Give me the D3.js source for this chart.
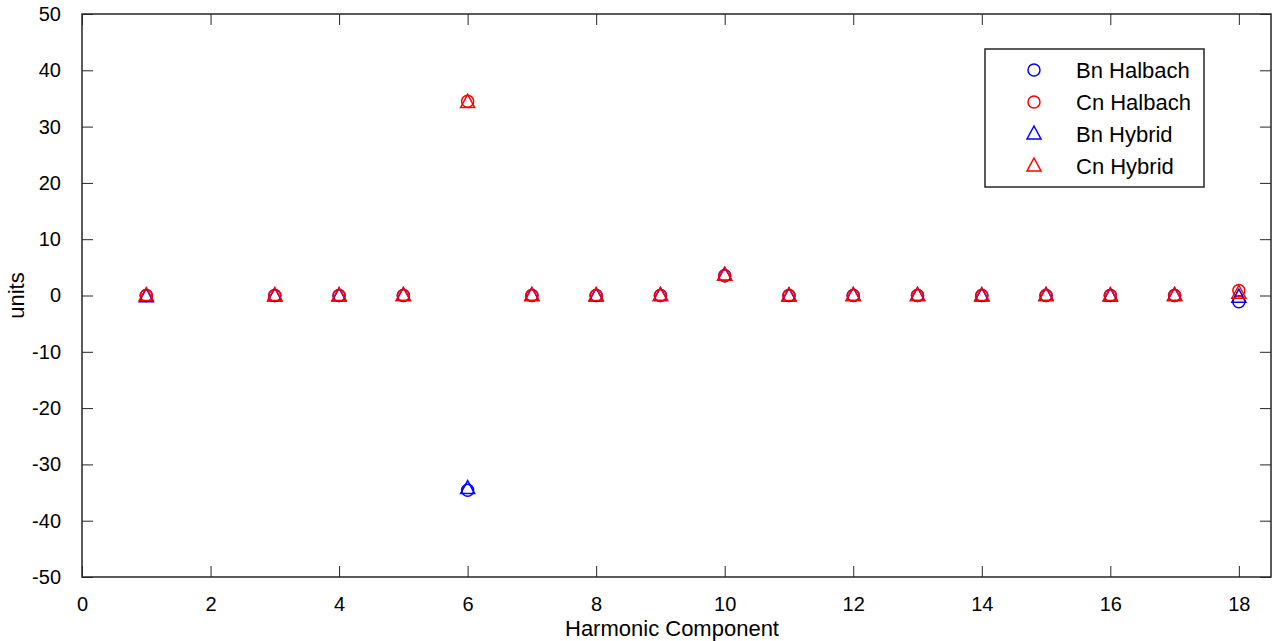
<!DOCTYPE html>
<html lang="en">
<head>
<meta charset="UTF-8">
<title>Harmonic components</title>
<script src="https://d3js.org/d3.v7.min.js"></script>
<style>
  body { margin: 0; background: #fff; }
  text { font-family: "Liberation Sans", Arial, sans-serif; fill: #000; }
</style>
</head>
<body>
<svg id="chart" width="1275" height="641"></svg>
<script>
// harmonic numbers (n = 2 is off the chart and not shown)
const harmonics = [1, 3, 4, 5, 6, 7, 8, 9, 10, 11, 12, 13, 14, 15, 16, 17, 18];
const bnHalbach = [0, 0, 0, 0, -34.6, 0, 0, 0, 3.5, 0, 0, 0, 0, 0, 0, 0, -1.1];
const cnHalbach = [0, 0, 0, 0, 34.5, 0, 0, 0, 3.5, 0, 0, 0, 0, 0, 0, 0, 0.9];
const bnHybrid  = [-0.2, -0.1, -0.1, 0, -34.3, 0, -0.1, 0, 3.6, -0.1, 0, 0, -0.1, 0, -0.1, 0, -0.3];
const cnHybrid  = [0, 0, 0, 0, 34.3, 0, 0, 0, 3.6, 0, 0, 0, 0, 0, 0, 0, 0.4];
const xTicks = [0, 2, 4, 6, 8, 10, 12, 14, 16, 18];
const yTicks = [-50, -40, -30, -20, -10, 0, 10, 20, 30, 40, 50];

const series = [
  { name: "Bn Halbach", values: bnHalbach, color: "#0000ff", shape: "circle" },
  { name: "Cn Halbach", values: cnHalbach, color: "#ff0000", shape: "circle" },
  { name: "Bn Hybrid",  values: bnHybrid,  color: "#0000ff", shape: "triangle" },
  { name: "Cn Hybrid",  values: cnHybrid,  color: "#ff0000", shape: "triangle" }
];

const svg = d3.select("#chart");
const plotL = 82, plotR = 1271, plotT = 14, plotB = 577;
const tickFont = 20, labelFont = 22;

const x = d3.scaleLinear().domain([0, 18.5]).range([plotL, plotR]);
const y = d3.scaleLinear().domain([-50, 50]).range([plotB, plotT]);

// axes, ticks pointing inward like matlab
function styleAxis(g) {
  g.select(".domain").remove();
  g.selectAll(".tick line").attr("stroke", "#262626");
  g.selectAll(".tick text").style("font-size", tickFont + "px");
}
const plain = d => String(d);
svg.append("g").attr("transform", `translate(0,${plotB})`)
  .call(d3.axisBottom(x).tickValues(xTicks).tickFormat(plain).tickSizeInner(-11).tickSizeOuter(0).tickPadding(20))
  .call(styleAxis);
svg.append("g").attr("transform", `translate(0,${plotT})`)
  .call(d3.axisTop(x).tickValues(xTicks).tickSizeInner(-11).tickSizeOuter(0).tickFormat(""))
  .call(styleAxis);
svg.append("g").attr("transform", `translate(${plotL},0)`)
  .call(d3.axisLeft(y).tickValues(yTicks).tickFormat(plain).tickSizeInner(-11).tickSizeOuter(0).tickPadding(21))
  .call(styleAxis);
svg.append("g").attr("transform", `translate(${plotR},0)`)
  .call(d3.axisRight(y).tickValues(yTicks).tickSizeInner(-11).tickSizeOuter(0).tickFormat(""))
  .call(styleAxis);

svg.append("rect")
  .attr("x", plotL).attr("y", plotT)
  .attr("width", plotR - plotL).attr("height", plotB - plotT)
  .attr("fill", "none").attr("stroke", "#262626").attr("stroke-width", 1.5);

// markers
const circleSym = d3.symbol().type(d3.symbolCircle).size(Math.PI * 6 * 6);
function triPath(cx, cy) {
  return `M${cx},${cy - 8}L${cx + 7},${cy + 5}L${cx - 7},${cy + 5}Z`;
}
function drawMarker(g, s, cx, cy) {
  if (s.shape === "circle") {
    g.append("path").attr("d", circleSym()).attr("transform", `translate(${cx},${cy})`)
      .attr("fill", "none").attr("stroke", s.color).attr("stroke-width", 1.5);
  } else {
    g.append("path").attr("d", triPath(cx, cy))
      .attr("fill", "none").attr("stroke", s.color).attr("stroke-width", 1.5);
  }
}

const markG = svg.append("g");
series.forEach(s => {
  harmonics.forEach((h, i) => drawMarker(markG, s, x(h), y(s.values[i])));
});

// axis labels
svg.append("text")
  .attr("x", 672).attr("y", 636)
  .attr("text-anchor", "middle").style("font-size", labelFont + "px")
  .text("Harmonic Component");
svg.append("text")
  .attr("transform", `translate(24,${(plotT + plotB) / 2}) rotate(-90)`)
  .attr("text-anchor", "middle").style("font-size", labelFont + "px")
  .text("units");

// legend
const lg = svg.append("g");
lg.append("rect").attr("x", 985).attr("y", 49).attr("width", 219).attr("height", 138)
  .attr("fill", "#fff").attr("stroke", "#262626").attr("stroke-width", 1.5);
series.forEach((s, i) => {
  const ly = 70 + i * 32;
  drawMarker(lg, s, 1034, ly);
  lg.append("text").attr("x", 1076).attr("y", ly + 8)
    .style("font-size", labelFont + "px").text(s.name);
});
</script>
</body>
</html>
